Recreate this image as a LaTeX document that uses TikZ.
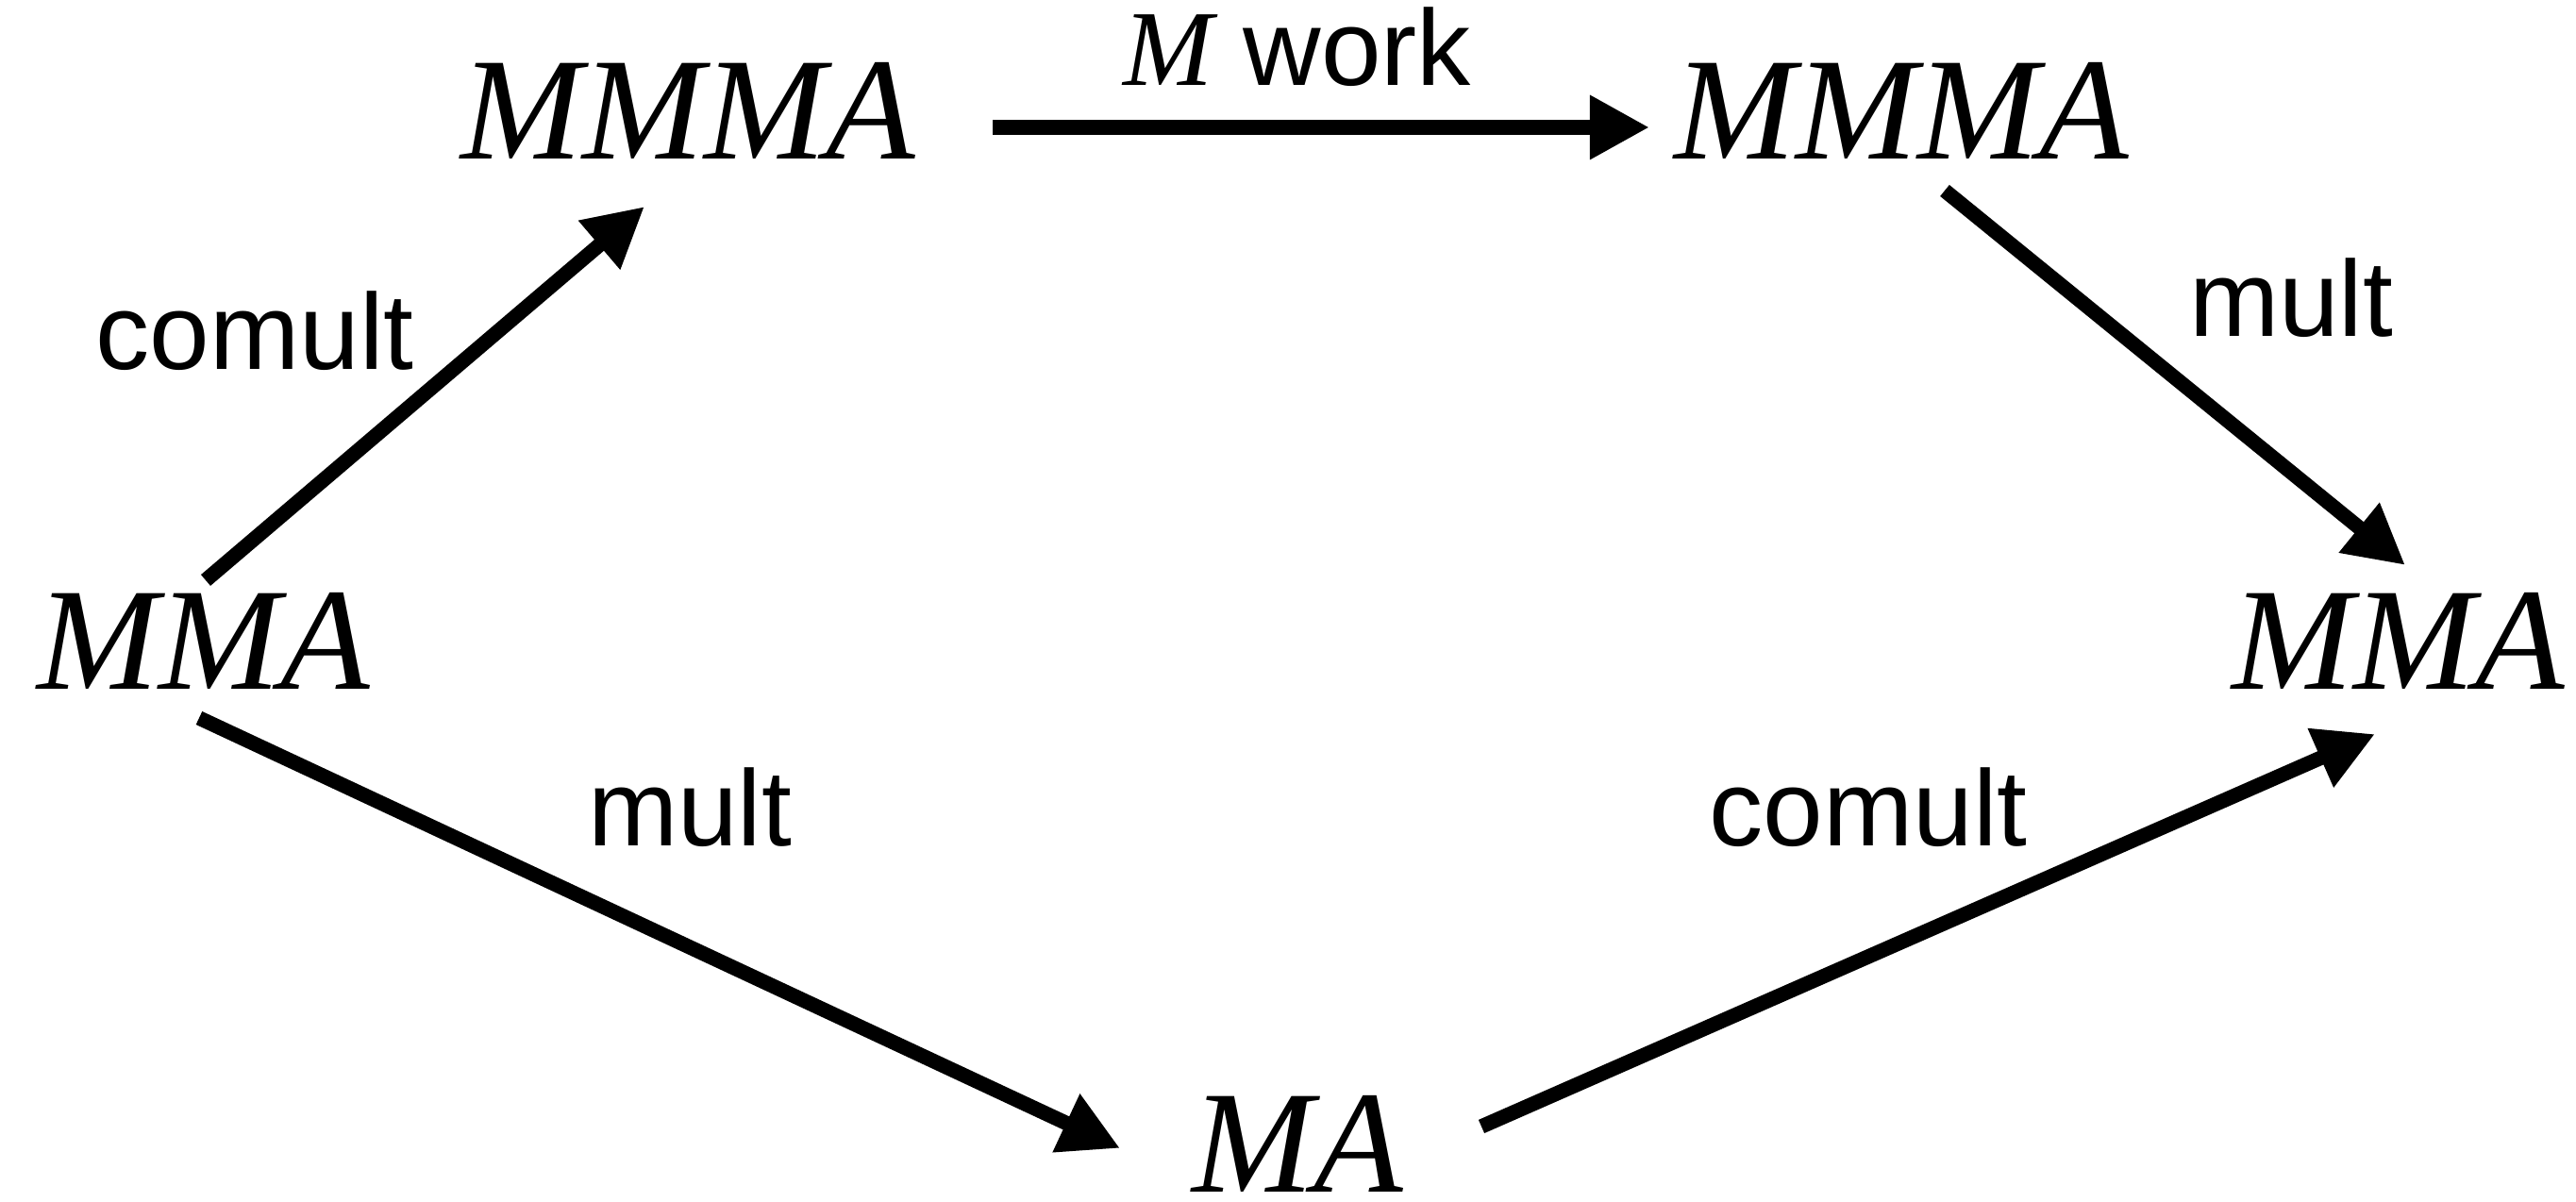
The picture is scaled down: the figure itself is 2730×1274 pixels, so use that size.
\documentclass[tikz,border=0pt]{standalone}
\usepackage{fontspec}
\setmainfont{Liberation Serif}
\setsansfont{Liberation Sans}
\usetikzlibrary{arrows.meta}
\begin{document}
\begin{tikzpicture}[x=0.01cm,y=-0.01cm,
  obj/.style={inner sep=0pt,anchor=base,font=\fontsize{44}{50}\selectfont\itshape},
  lbl/.style={inner sep=0pt,anchor=base,font=\fontsize{32.5}{38}\selectfont\sffamily},
  arr/.style={line width=4.4pt,-{Triangle[length=6.3mm,width=6.4mm]}}]
\useasboundingbox (0,0) rectangle (2730,1274);

% objects
\node[obj] (mmaL)   at (216,731)  {MMA};
\node[obj] (mmmaTL) at (729,169)  {MMMA};
\node[obj] (mmmaTR) at (2015,169) {MMMA};
\node[obj] (mmaR)   at (2542,731) {MMA};
\node[obj] (ma)     at (1375,1264) {MA};

% morphisms
\draw[arr] ([shift={(2,-116)}]mmaL.base) -- ([shift={(-46,50)}]mmmaTL.base);
\draw[arr] ([shift={(323,-34)}]mmmaTL.base) -- ([shift={(-267,-34)}]mmmaTR.base);
\draw[arr] ([shift={(46,33)}]mmmaTR.base) -- ([shift={(7,-132)}]mmaR.base);
\draw[arr] ([shift={(-5,30)}]mmaL.base) -- ([shift={(-188,-47)}]ma.base);
\draw[arr] ([shift={(195,-70)}]ma.base) -- ([shift={(-25,47)}]mmaR.base);

% labels
\node[lbl] (l1) at (270,392)  {comult};
\node[lbl] (l2) at (1375,91)  {{\rmfamily\itshape M} work};
\node[lbl] (l3) at (2428,357) {mult};
\node[lbl] (l4) at (731,897)  {mult};
\node[lbl] (l5) at (1980,897) {comult};
\end{tikzpicture}
\end{document}
